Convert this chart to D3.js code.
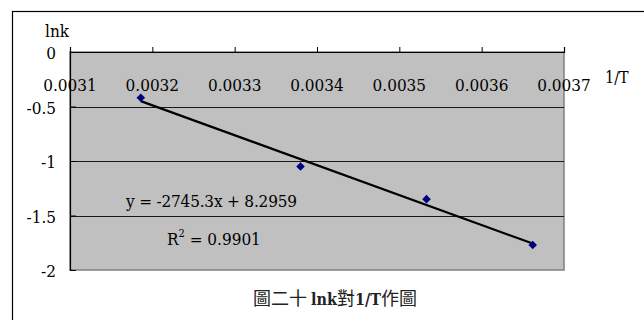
<!DOCTYPE html>
<html><head><meta charset="utf-8">
<script src="https://cdn.jsdelivr.net/npm/d3@7"></script>
<style>body{margin:0;background:#fff}svg{display:block}</style>
</head><body><svg id="c" width="644" height="320"></svg>
<script>
const invT = [0.003186, 0.003380, 0.003533, 0.003662];
const lnk = [-0.42, -1.05, -1.35, -1.77];
const xTicks = [0.0031, 0.0032, 0.0033, 0.0034, 0.0035, 0.0036, 0.0037];
const xTickLabels = ["0.0031", "0.0032", "0.0033", "0.0034", "0.0035", "0.0036", "0.0037"];
const yTicks = [0, -0.5, -1, -1.5, -2];
const yTickLabels = ["0", "-0.5", "-1", "-1.5", "-2"];
const trend = [-2745.3, 8.2959];
const eqText = "y = -2745.3x + 8.2959";
const r2Value = "0.9901";
const xTitle = "1/T", yTitle = "lnk";
const caption = ["圖二十 ", "lnk", "對", "1/T", "作圖"];

const svg = d3.select("#c");
const L = 70, R = 564, T = 52, B = 270;
const x = d3.scaleLinear().domain([0.0031, 0.0037]).range([L, R]);
const y = d3.scaleLinear().domain([0, -2]).range([T, B]);
const serif = "DejaVu Serif Condensed, DejaVu Serif, serif";
const FS = 17;

// outer chart border
svg.append("rect").attr("x", 12.5).attr("y", 11.5).attr("width", 700).attr("height", 400)
  .attr("fill", "#fff").attr("stroke", "#000").attr("stroke-width", 1.2);

// plot area
svg.append("rect").attr("x", L).attr("y", T).attr("width", R - L).attr("height", B - T)
  .attr("fill", "#c0c0c0").attr("stroke", "#808080").attr("stroke-width", 1.5);

// gridlines
svg.append("g").selectAll("line").data(yTicks.slice(1, -1)).join("line")
  .attr("x1", L).attr("x2", R).attr("y1", d => Math.round(y(d)) + 0.5).attr("y2", d => Math.round(y(d)) + 0.5)
  .attr("stroke", "#1a1a1a").attr("stroke-width", 1);

// x axis at top (y=0), ticks up, labels inside below
const xAxis = d3.axisTop(x).tickValues(xTicks).tickSize(5).tickFormat("");
const gx = svg.append("g").attr("transform", `translate(0,${T})`).call(xAxis);
gx.select(".domain").attr("stroke", "#000").attr("stroke-width", 1.2);
gx.selectAll(".tick line").attr("stroke", "#000");
svg.append("g").selectAll("text").data(xTicks).join("text")
  .attr("x", d => x(d)).attr("y", 91).attr("text-anchor", "middle")
  .attr("font-family", serif).attr("font-size", FS).attr("fill", "#000")
  .text((d, i) => xTickLabels[i]);

// y axis
const yAxis = d3.axisRight(y).tickValues(yTicks).tickSize(6).tickFormat("");
const gy = svg.append("g").attr("transform", `translate(${L},0)`).call(yAxis);
gy.select(".domain").attr("stroke", "#000").attr("stroke-width", 1.2);
gy.selectAll(".tick line").attr("stroke", "#000");
svg.append("g").selectAll("text").data(yTicks).join("text")
  .attr("x", 56).attr("y", d => y(d) + 7).attr("text-anchor", "end")
  .attr("font-family", serif).attr("font-size", FS).attr("fill", "#000")
  .text((d, i) => yTickLabels[i]);

// axis titles
svg.append("text").attr("x", 45).attr("y", 37).attr("font-family", serif).attr("font-size", FS).text(yTitle);
svg.append("text").attr("x", 605).attr("y", 83).attr("font-family", serif).attr("font-size", 16).text(xTitle);

// trendline
const xs = d3.extent(invT);
svg.append("line")
  .attr("x1", x(xs[0])).attr("y1", y(trend[0] * xs[0] + trend[1]))
  .attr("x2", x(xs[1])).attr("y2", y(trend[0] * xs[1] + trend[1]))
  .attr("stroke", "#000").attr("stroke-width", 2.2);

// points
const pts = invT.map((v, i) => [v, lnk[i]]);
svg.append("g").selectAll("path").data(pts).join("path")
  .attr("d", d => { const cx = x(d[0]), cy = y(d[1]), s = 4.3; return `M${cx},${cy - s}L${cx + s},${cy}L${cx},${cy + s}L${cx - s},${cy}Z`; })
  .attr("fill", "#000080");

// equation labels
svg.append("text").attr("x", 126).attr("y", 207).attr("font-family", serif).attr("font-size", FS)
  .attr("textLength", 171).attr("lengthAdjust", "spacing").text(eqText);
const r2 = svg.append("text").attr("x", 167).attr("y", 245).attr("font-family", serif).attr("font-size", FS);
r2.append("tspan").text("R");
r2.append("tspan").attr("font-size", 11).attr("dy", -8).text("2");
r2.append("tspan").attr("dy", 8).text(" = ");
r2.append("tspan").text(r2Value);

// caption
const cap = svg.append("text").attr("x", 335).attr("y", 305).attr("text-anchor", "middle")
  .attr("font-size", 18).attr("fill", "#222");
caption.forEach((t, i) => {
  const latin = /^[A-Za-z0-9\/]+$/.test(t);
  cap.append("tspan").attr("font-family", latin ? serif : "'Noto Sans CJK TC', sans-serif")
    .attr("font-weight", latin ? "bold" : "normal").attr("font-size", latin ? 16 : 18).text(t);
});
</script></body></html>
